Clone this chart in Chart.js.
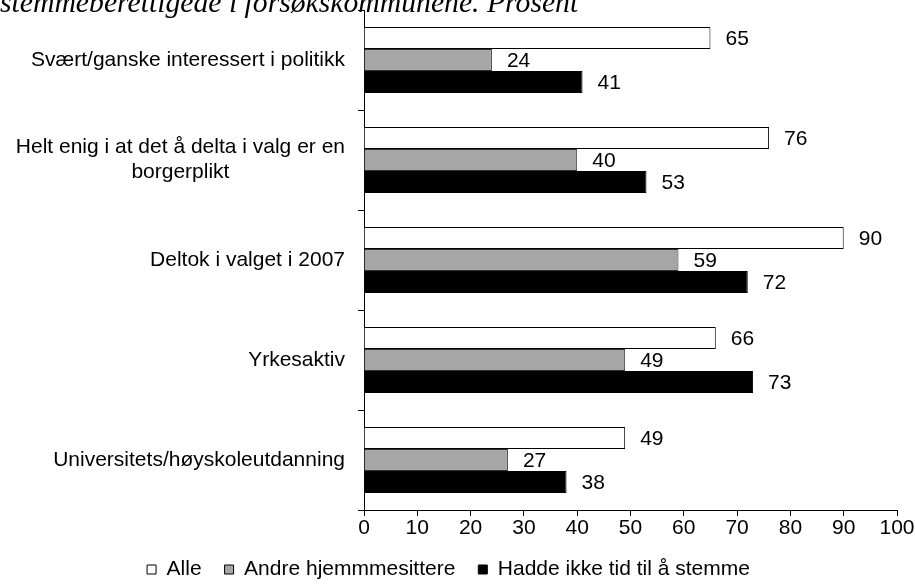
<!DOCTYPE html>
<html>
<head>
<meta charset="utf-8">
<script src="https://cdn.jsdelivr.net/npm/chart.js@4/dist/chart.umd.min.js"></script>
<style>
  html, body { margin: 0; padding: 0; background: #fff; }
  #wrap { position: relative; width: 915px; height: 587px; }
</style>
</head>
<body>
<div id="wrap"><canvas id="chart"></canvas></div>
<script>
const titleText = 'stemmeberettigede i forsøkskommunene. Prosent';
const categories = [
    ['Svært/ganske interessert i politikk'],
    ['Helt enig i at det å delta i valg er en', 'borgerplikt'],
    ['Deltok i valget i 2007'],
    ['Yrkesaktiv'],
    ['Universitets/høyskoleutdanning']
];
const seriesNames = ['Alle', 'Andre hjemmmesittere', 'Hadde ikke tid til å stemme'];
const alle = [65, 76, 90, 66, 49];
const andre = [24, 40, 59, 49, 27];
const hadde = [41, 53, 72, 73, 38];
const xTicks = [0, 10, 20, 30, 40, 50, 60, 70, 80, 90, 100];

const FONT = '"Liberation Sans", Arial, sans-serif';

// cut-off italic title at the very top
const titlePlugin = {
    id: 'topTitle',
    beforeDraw(chart) {
        const ctx = chart.ctx;
        ctx.save();
        ctx.fillStyle = '#fff';
        ctx.fillRect(0, 0, chart.width, chart.height);
        ctx.font = 'italic 29.7px "Liberation Serif", "Times New Roman", serif';
        ctx.fillStyle = '#000';
        ctx.textBaseline = 'alphabetic';
        ctx.textAlign = 'left';
        ctx.fillText(titleText, 0, 12);
        ctx.restore();
    }
};

// category labels: right edge fixed, multi-line block centred
const yLabelPlugin = {
    id: 'yLabels',
    afterDraw(chart) {
        const ctx = chart.ctx;
        const ys = chart.scales.y;
        ctx.save();
        ctx.font = '21px ' + FONT;
        ctx.fillStyle = '#000';
        ctx.textAlign = 'center';
        ctx.textBaseline = 'middle';
        const right = ys.right - 19;
        const lh = 25;
        categories.forEach((lines, i) => {
            const yc = ys.getPixelForValue(i);
            const w = Math.max(...lines.map(l => ctx.measureText(l).width));
            const cx = right - w / 2;
            const y0 = yc - (lines.length - 1) * lh / 2;
            lines.forEach((l, k) => ctx.fillText(l, cx, y0 + k * lh));
        });
        ctx.restore();
    }
};

// value labels right of each bar
const valuePlugin = {
    id: 'values',
    afterDatasetsDraw(chart) {
        const ctx = chart.ctx;
        ctx.save();
        ctx.font = '21px ' + FONT;
        ctx.fillStyle = '#000';
        ctx.textAlign = 'left';
        ctx.textBaseline = 'middle';
        chart.data.datasets.forEach((ds, di) => {
            chart.getDatasetMeta(di).data.forEach((el, i) => {
                ctx.fillText(String(ds.data[i]), el.x + 15, el.y + 1);
            });
        });
        ctx.restore();
    }
};

new Chart(document.getElementById('chart'), {
    type: 'bar',
    data: {
        labels: categories,
        datasets: [
            { label: seriesNames[0], data: alle, backgroundColor: '#ffffff', borderColor: '#000', borderWidth: 1 },
            { label: seriesNames[1], data: andre, backgroundColor: '#a6a6a6', borderColor: '#333', borderWidth: 1 },
            { label: seriesNames[2], data: hadde, backgroundColor: '#000000', borderColor: '#000', borderWidth: 1 }
        ]
    },
    options: {
        indexAxis: 'y',
        responsive: true,
        maintainAspectRatio: false,
        animation: false,
        categoryPercentage: 0.66,
        barPercentage: 1,
        layout: { padding: { top: 10, right: 18, left: 0, bottom: -3 } },
        scales: {
            x: {
                min: 0,
                max: 100,
                afterBuildTicks: s => { s.ticks = xTicks.map(v => ({ value: v })); },
                afterFit: s => { s.height = 26; },
                grid: { drawOnChartArea: false, drawTicks: true, tickLength: 6, color: '#000', lineWidth: 1 },
                border: { color: '#000', width: 1 },
                ticks: { color: '#000', font: { family: FONT, size: 21 }, padding: 0, maxRotation: 0 }
            },
            y: {
                afterFit: s => { s.width = 364; },
                grid: { offset: true, drawOnChartArea: false, drawTicks: true, tickLength: 6, color: '#000', lineWidth: 1 },
                border: { color: '#000', width: 1 },
                ticks: { display: false }
            }
        },
        plugins: {
            legend: {
                position: 'bottom',
                labels: {
                    color: '#000',
                    font: { family: FONT, size: 21 },
                    boxWidth: 9,
                    boxHeight: 9,
                    padding: 23,
                    generateLabels: chart => chart.data.datasets.map((ds, i) => ({
                        text: ds.label,
                        fillStyle: ds.backgroundColor,
                        strokeStyle: '#000',
                        lineWidth: 1,
                        datasetIndex: i
                    }))
                }
            },
            tooltip: { enabled: false }
        }
    },
    plugins: [titlePlugin, yLabelPlugin, valuePlugin]
});
</script>
</body>
</html>
